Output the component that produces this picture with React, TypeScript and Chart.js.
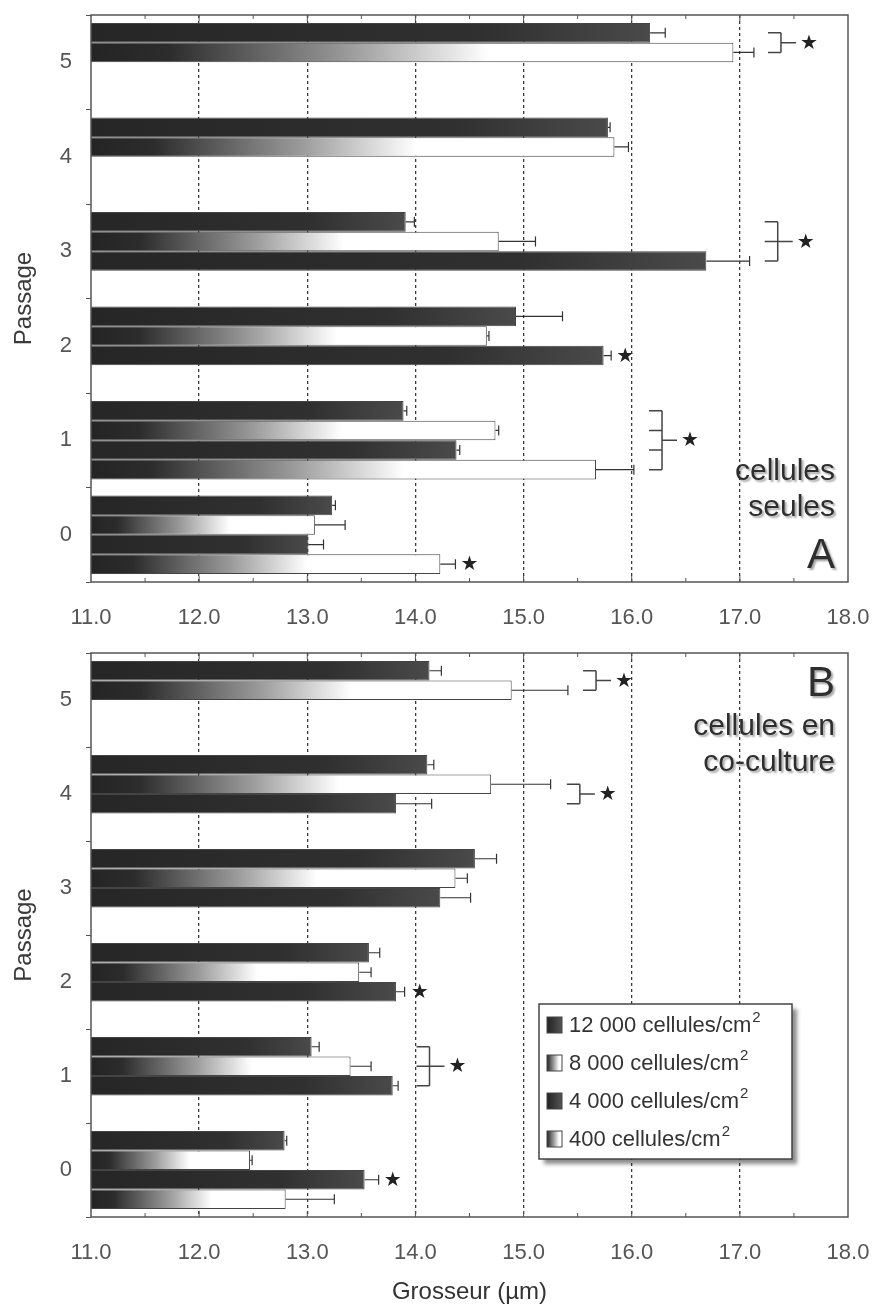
import React, { useEffect, useRef } from 'react';
import { Chart, registerables } from 'chart.js';

Chart.register(...registerables);

// ---------- DATA ----------
const passages = ['5', '4', '3', '2', '1', '0'];
const densityLabels = ['12 000 cellules/cm', '8 000 cellules/cm', '4 000 cellules/cm', '400 cellules/cm'];
const densityKinds = ['dark', 'fade', 'dark', 'fade'];
const xTickMin = 11;
const xTickMax = 18;

// Panel A: cellules seules (order: passage 5 .. 0)
const seules12000 = [16.17, 15.78, 13.91, 14.93, 13.89, 13.23];
const seules12000Err = [0.14, 0.02, 0.08, 0.43, 0.03, 0.03];
const seules8000 = [16.94, 15.84, 14.77, 14.66, 14.74, 13.07];
const seules8000Err = [0.19, 0.13, 0.34, 0.02, 0.03, 0.28];
const seules4000 = [null, null, 16.69, 15.74, 14.38, 13.01];
const seules4000Err = [null, null, 0.40, 0.07, 0.03, 0.14];
const seules400 = [null, null, null, null, 15.67, 14.23];
const seules400Err = [null, null, null, null, 0.35, 0.14];

// Panel B: cellules en co-culture
const cocult12000 = [14.13, 14.11, 14.55, 13.57, 13.04, 12.79];
const cocult12000Err = [0.11, 0.06, 0.20, 0.10, 0.07, 0.02];
const cocult8000 = [14.89, 14.70, 14.37, 13.48, 13.40, 12.47];
const cocult8000Err = [0.52, 0.55, 0.11, 0.11, 0.19, 0.02];
const cocult4000 = [null, 13.82, 14.23, 13.82, 13.79, 13.53];
const cocult4000Err = [null, 0.33, 0.28, 0.08, 0.05, 0.13];
const cocult400 = [null, null, null, null, null, 12.80];
const cocult400Err = [null, null, null, null, null, 0.45];

// Significance marks (x in µm, bar = series index within the passage)
const seulesBrackets = [
  { cat: '5', bars: [0, 1], x: 17.26 },
  { cat: '3', bars: [0, 1, 2], x: 17.23 },
  { cat: '1', bars: [0, 1, 2, 3], x: 16.16 },
];
const seulesStars = [
  { cat: '2', bar: 2, x: 15.94 },
  { cat: '0', bar: 3, x: 14.5 },
];
const cocultBrackets = [
  { cat: '5', bars: [0, 1], x: 15.55 },
  { cat: '4', bars: [1, 2], x: 15.4 },
  { cat: '1', bars: [0, 1, 2], x: 14.01 },
];
const cocultStars = [
  { cat: '2', bar: 2, x: 14.04 },
  { cat: '0', bar: 2, x: 13.79 },
];

const FONT = 'Arial, "Liberation Sans", Helvetica, sans-serif';
Chart.defaults.font.family = FONT;

// ---------- HELPERS ----------
function fillGradient(g: CanvasGradient, kind: string) {
  if (kind === 'dark') {
    g.addColorStop(0, '#262626');
    g.addColorStop(0.7, '#303030');
    g.addColorStop(1, '#4a4a4a');
  } else {
    g.addColorStop(0, '#242424');
    g.addColorStop(0.12, '#2c2c2c');
    g.addColorStop(0.4, '#9a9a9a');
    g.addColorStop(0.62, '#ffffff');
    g.addColorStop(1, '#ffffff');
  }
  return g;
}

function barFill(kind: string) {
  return (c: any) => {
    const chart = c.chart;
    if (c.type !== 'data' || c.raw == null || !chart.chartArea || !chart.scales.x) {
      return kind === 'dark' ? '#2c2c2c' : '#aaaaaa';
    }
    const xs = chart.scales.x;
    const x0 = xs.getPixelForValue(xTickMin);
    const x1 = Math.max(xs.getPixelForValue(c.raw), x0 + 1);
    return fillGradient(chart.ctx.createLinearGradient(x0, 0, x1, 0), kind);
  };
}

function buildDatasets(values: any[][], errors: any[][]) {
  return values.map((v, i) => ({
    label: densityLabels[i],
    data: v,
    errors: errors[i],
    backgroundColor: barFill(densityKinds[i]),
    borderColor: '#444',
    borderWidth: 1,
    categoryPercentage: 0.83,
    barPercentage: 1.0,
  }));
}

function drawStar(ctx: CanvasRenderingContext2D, x: number, y: number) {
  ctx.save();
  ctx.fillStyle = '#222';
  ctx.font = '20px "DejaVu Sans"';
  ctx.textAlign = 'center';
  ctx.textBaseline = 'middle';
  ctx.fillText('★', x, y + 1);
  ctx.restore();
}

function makePlugins(panel: 'A' | 'B', brackets: any[], stars: any[]) {
  const errorBars = {
    id: 'errorBars' + panel,
    afterDatasetsDraw(chart: any) {
      const ctx = chart.ctx;
      const xs = chart.scales.x;
      ctx.save();
      ctx.strokeStyle = '#333';
      ctx.lineWidth = 1.2;
      chart.data.datasets.forEach((ds: any, i: number) => {
        const meta = chart.getDatasetMeta(i);
        meta.data.forEach((el: any, j: number) => {
          const v = ds.data[j];
          const e = ds.errors[j];
          if (v == null || e == null) return;
          const xa = xs.getPixelForValue(v);
          const xb = xs.getPixelForValue(v + e);
          ctx.beginPath();
          ctx.moveTo(xa, el.y);
          ctx.lineTo(xb, el.y);
          ctx.moveTo(xb, el.y - 5);
          ctx.lineTo(xb, el.y + 5);
          ctx.stroke();
        });
      });
      ctx.restore();
    },
  };

  const frame = {
    id: 'frame' + panel,
    afterDatasetsDraw(chart: any) {
      const ctx = chart.ctx;
      const ca = chart.chartArea;
      const xs = chart.scales.x;
      ctx.save();
      ctx.strokeStyle = '#555';
      ctx.lineWidth = 1.5;
      ctx.strokeRect(ca.left, ca.top, ca.right - ca.left, ca.bottom - ca.top);
      ctx.lineWidth = 1;
      for (let v = xTickMin + 0.5; v < xTickMax; v += 0.5) {
        const px = xs.getPixelForValue(v);
        const len = Number.isInteger(v) ? 6 : 4;
        ctx.beginPath();
        ctx.moveTo(px, ca.bottom);
        ctx.lineTo(px, ca.bottom - len);
        ctx.moveTo(px, ca.top);
        ctx.lineTo(px, ca.top + len);
        ctx.stroke();
      }
      ctx.restore();
    },
  };

  const marks = {
    id: 'marks' + panel,
    afterDatasetsDraw(chart: any) {
      const ctx = chart.ctx;
      const xs = chart.scales.x;
      const yOf = (cat: string, bar: number) => {
        const idx = passages.indexOf(cat);
        return chart.getDatasetMeta(bar).data[idx].y;
      };
      ctx.save();
      ctx.strokeStyle = '#444';
      ctx.lineWidth = 1.5;
      brackets.forEach((b) => {
        const x0 = xs.getPixelForValue(b.x);
        const xv = x0 + 13;
        const ys = b.bars.map((k: number) => yOf(b.cat, k));
        const y1 = ys[0];
        const y2 = ys[ys.length - 1];
        const ym = (y1 + y2) / 2;
        ctx.beginPath();
        ys.forEach((y: number) => {
          ctx.moveTo(x0, y);
          ctx.lineTo(xv, y);
        });
        ctx.moveTo(xv, y1);
        ctx.lineTo(xv, y2);
        ctx.moveTo(xv, ym);
        ctx.lineTo(xv + 15, ym);
        ctx.stroke();
        drawStar(ctx, xv + 28, ym);
      });
      stars.forEach((s) => {
        drawStar(ctx, xs.getPixelForValue(s.x), yOf(s.cat, s.bar));
      });
      ctx.restore();
    },
  };

  const texts = {
    id: 'texts' + panel,
    afterDraw(chart: any) {
      const ctx = chart.ctx;
      const ca = chart.chartArea;
      const rx = ca.right - 13;
      ctx.save();
      ctx.fillStyle = '#2e2e2e';
      ctx.textAlign = 'right';
      ctx.textBaseline = 'middle';
      ctx.shadowColor = 'rgba(0,0,0,0.35)';
      ctx.shadowOffsetX = 2;
      ctx.shadowOffsetY = 2;
      ctx.shadowBlur = 2;
      if (panel === 'A') {
        ctx.font = `30px ${FONT}`;
        ctx.fillText('cellules', rx, ca.bottom - 110);
        ctx.fillText('seules', rx, ca.bottom - 74);
        ctx.font = `42px ${FONT}`;
        ctx.fillText('A', rx, ca.bottom - 26);
      } else {
        ctx.font = `42px ${FONT}`;
        ctx.fillText('B', rx, ca.top + 31);
        ctx.font = `30px ${FONT}`;
        ctx.fillText('cellules en', rx, ca.top + 74);
        ctx.fillText('co-culture', rx, ca.top + 110);
      }
      ctx.restore();

      if (panel === 'B') {
        // legend box
        const bx = ca.left + 448;
        const by = ca.top + 351;
        const bw = 253;
        const bh = 155;
        ctx.save();
        ctx.shadowColor = 'rgba(0,0,0,0.45)';
        ctx.shadowOffsetX = 5;
        ctx.shadowOffsetY = 5;
        ctx.shadowBlur = 4;
        ctx.fillStyle = '#fff';
        ctx.fillRect(bx, by, bw, bh);
        ctx.restore();
        ctx.save();
        ctx.strokeStyle = '#444';
        ctx.lineWidth = 1.5;
        ctx.strokeRect(bx, by, bw, bh);
        chart.data.datasets.forEach((ds: any, i: number) => {
          const ry = by + 21 + i * 38;
          const sx = bx + 8;
          const grad = ctx.createLinearGradient(sx, 0, sx + 15, 0);
          if (densityKinds[i] === 'dark') {
            grad.addColorStop(0, '#222');
            grad.addColorStop(1, '#555');
          } else {
            grad.addColorStop(0, '#222');
            grad.addColorStop(0.5, '#aaa');
            grad.addColorStop(0.8, '#fff');
            grad.addColorStop(1, '#fff');
          }
          ctx.fillStyle = grad;
          ctx.fillRect(sx, ry - 8, 15, 16);
          ctx.strokeStyle = '#444';
          ctx.lineWidth = 1;
          ctx.strokeRect(sx, ry - 8, 15, 16);
          ctx.fillStyle = '#333';
          ctx.font = `22px ${FONT}`;
          ctx.textAlign = 'left';
          ctx.textBaseline = 'middle';
          const tx = bx + 30;
          ctx.fillText(ds.label, tx, ry + 1);
          const w = ctx.measureText(ds.label).width;
          ctx.font = `15px ${FONT}`;
          ctx.fillText('2', tx + w + 1, ry - 7);
        });
        ctx.restore();
      }
    },
  };

  return [errorBars, frame, marks, texts];
}

function makeConfig(panel: 'A' | 'B') {
  const values = panel === 'A'
    ? [seules12000, seules8000, seules4000, seules400]
    : [cocult12000, cocult8000, cocult4000, cocult400];
  const errors = panel === 'A'
    ? [seules12000Err, seules8000Err, seules4000Err, seules400Err]
    : [cocult12000Err, cocult8000Err, cocult4000Err, cocult400Err];
  const brackets = panel === 'A' ? seulesBrackets : cocultBrackets;
  const stars = panel === 'A' ? seulesStars : cocultStars;
  const axisHeight = panel === 'A' ? 58 : 92;

  return {
    type: 'bar' as const,
    data: { labels: passages, datasets: buildDatasets(values, errors) },
    options: {
      indexAxis: 'y' as const,
      animation: false as const,
      responsive: false,
      devicePixelRatio: 1,
      events: [],
      layout: { padding: { top: panel === 'A' ? 15 : 13, right: 26, left: 0, bottom: 0 } },
      plugins: { legend: { display: false }, tooltip: { enabled: false }, title: { display: false } },
      scales: {
        x: {
          type: 'linear' as const,
          min: xTickMin,
          max: xTickMax,
          afterFit: (s: any) => {
            s.height = axisHeight;
            s.paddingLeft = 0;
            s.paddingRight = 0;
          },
          ticks: {
            stepSize: 1,
            autoSkip: false,
            maxRotation: 0,
            padding: 23,
            color: '#555',
            font: { size: 22, family: FONT },
            callback: (v: any) => Number(v).toFixed(1),
          },
          grid: {
            drawTicks: false,
            lineWidth: 1.3,
            color: (c: any) =>
              c.tick && (c.tick.value === xTickMin || c.tick.value === xTickMax) ? 'rgba(0,0,0,0)' : '#3a3a3a',
          },
          border: { display: false, dash: [3, 3] },
          title: {
            display: panel === 'B',
            text: 'Grosseur (µm)',
            color: '#333',
            font: { size: 24, family: FONT },
            padding: { top: 0, bottom: 2 },
          },
        },
        y: {
          type: 'category' as const,
          afterFit: (s: any) => {
            s.width = 91;
            s.paddingTop = 0;
            s.paddingBottom = 0;
          },
          ticks: { padding: 14, color: '#555', font: { size: 22, family: FONT } },
          grid: { offset: true, drawOnChartArea: false, tickLength: 5, color: '#555' },
          border: { display: false },
          title: {
            display: true,
            text: 'Passage',
            color: '#3a3a3a',
            font: { size: 24, family: FONT },
            padding: { top: 10, bottom: 0 },
          },
        },
      },
    },
    plugins: makePlugins(panel, brackets, stars),
  };
}

function Panel({ panel, top, height }: { panel: 'A' | 'B'; top: number; height: number }) {
  const ref = useRef<HTMLCanvasElement | null>(null);
  useEffect(() => {
    if (!ref.current) return;
    const chart = new Chart(ref.current, makeConfig(panel) as any);
    return () => chart.destroy();
  }, [panel]);
  return (
    <canvas
      ref={ref}
      width={874}
      height={height}
      style={{ position: 'absolute', left: 0, top, width: 874, height }}
    />
  );
}

export default function App() {
  return (
    <div style={{ position: 'absolute', left: 0, top: 0, width: 874, height: 1309, background: '#fff' }}>
      <Panel panel="A" top={0} height={640} />
      <Panel panel="B" top={640} height={669} />
    </div>
  );
}
